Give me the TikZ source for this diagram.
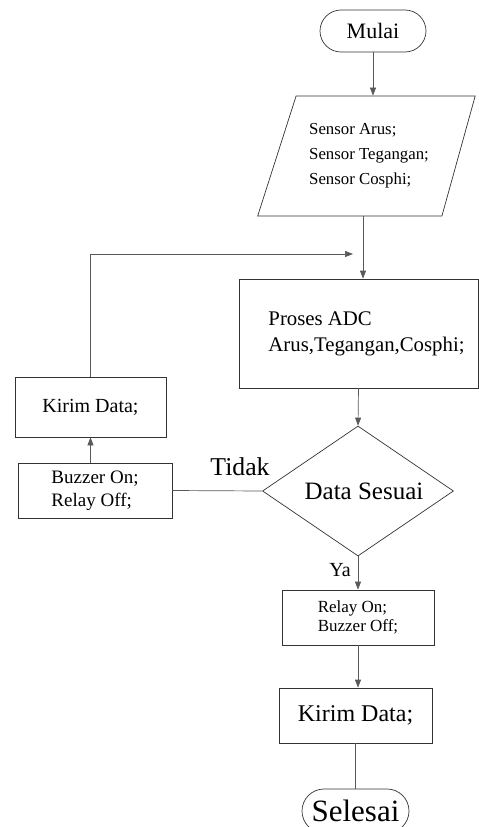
\documentclass[tikz,border=0pt]{standalone}
\usepackage{fontspec}
\setmainfont{Liberation Serif}
\usetikzlibrary{shapes.geometric,shapes.misc,arrows.meta}

\begin{document}
\begin{tikzpicture}[x=1pt, y=-1pt,
  box/.style={draw=black!80, line width=0.7pt, rectangle, inner sep=2pt},
  term/.style={draw=black!80, line width=0.7pt, rounded rectangle, inner sep=2pt},
  arr/.style={draw=black!65, line width=0.7pt, -{Triangle[length=8pt,width=6pt]}},
  ln/.style={draw=black!65, line width=0.7pt}]
  \useasboundingbox (0,0) rectangle (479,827);

  \node[term, minimum width=110pt, minimum height=42pt, font=\fontsize{22}{26}\selectfont] (mulai) at (373,31) {Mulai};
  \node[trapezium, trapezium left angle=65, trapezium right angle=112, trapezium stretches=true,
        draw=black!80, line width=0.7pt, minimum width=218pt, minimum height=120pt,
        align=left, font=\fontsize{16.8}{25}\selectfont] (sensor) at (369,156)
        {Sensor Arus;\\Sensor Tegangan;\\Sensor Cosphi;};
  \node[box, minimum width=239pt, minimum height=109pt, align=left, font=\fontsize{20.8}{26}\selectfont] (proses) at (358.5,333.5)
        {\hspace*{16pt}Proses ADC\\\hspace*{16pt}Arus,Tegangan,Cosphi;};
  \node[diamond, aspect=1.5, draw=black!80, line width=0.7pt, inner sep=2pt, minimum width=191pt, minimum height=130pt,
        font=\fontsize{25}{30}\selectfont] (sesuai) at (358,491) {\hspace*{12pt}Data Sesuai};
  \node[box, minimum width=151pt, minimum height=60pt, font=\fontsize{20}{24}\selectfont] (kirimA) at (90.5,407) {Kirim Data;};
  \node[box, minimum width=154pt, minimum height=55pt, align=left, font=\fontsize{19}{23}\selectfont] (buzzer) at (95,490.5)
        {Buzzer On;\\Relay Off;};
  \node[box, minimum width=152pt, minimum height=55pt, align=left, font=\fontsize{17}{19}\selectfont] (relay) at (358,617.5)
        {Relay On;\\Buzzer Off;};
  \node[box, minimum width=153pt, minimum height=55pt, font=\fontsize{24}{28}\selectfont] (kirimB) at (355.5,715.5) {Kirim Data;};
  \node[term, minimum width=111pt, minimum height=44pt, font=\fontsize{31}{36}\selectfont] (selesai) at (355.5,811) {Selesai};

  \node[anchor=base, font=\fontsize{25.7}{30}\selectfont] (tidak) at (240,475) {Tidak};
  \node[anchor=base, font=\fontsize{20}{24}\selectfont] (ya) at (340,576) {Ya};

  \coordinate (join) at (363,254);

  \draw[arr] (mulai.south) -- (mulai.south |- sensor.north);
  \draw[arr] (sensor.south -| join) -- (proses.north -| join);
  \draw[arr] (proses.south) -- (sesuai.north);
  \draw[ln] (sesuai.west) -- (buzzer.east);
  \draw[arr] (buzzer.north -| kirimA) -- (kirimA.south);
  \draw[arr] (kirimA.north) |- ([xshift=-10pt]join);
  \draw[arr] (sesuai.south) -- (relay.north);
  \draw[arr] (relay.south) -- (relay.south |- kirimB.north);
  \draw[ln] (kirimB.south) -- (selesai.north);
\end{tikzpicture}
\end{document}
